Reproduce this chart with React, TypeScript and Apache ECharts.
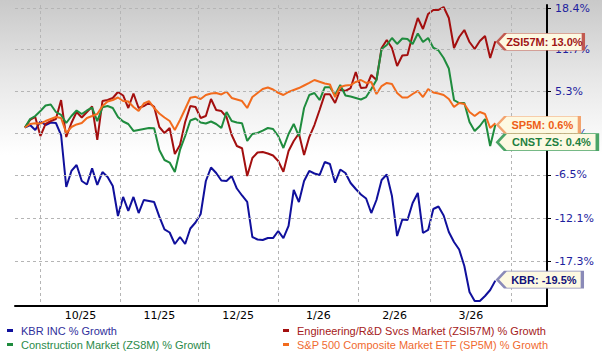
import React, { useEffect, useRef } from 'react';
import * as echarts from 'echarts';

// sampling: every 2 calendar days starting 2025-09-25
const START_DATE = [2025, 8, 25];
const STEP_DAYS = 2;

const kbr = [
  0, 0.35, -0.35, 0.85, 0.35, 0.71, 0.64, -1.06, -8.08, -5.97,
  -5.17, -7.3, -7.76, -5.62, -7.82, -6.11, -6.77, -7.95, -11.78, -9.37,
  -11.15, -9.37, -11.41, -9.76, -9.89, -10.02, -11.86, -13.45, -13.82, -15.21,
  -14.37, -15.21, -13.33, -12.59, -11.53, -7.3, -5.51, -6.24, -7.23, -7.3,
  -6.64, -8.28, -9.18, -10.0, -14.37, -14.67, -14.73, -14.49, -14.5, -13.64,
  -14.5, -13.02, -8.47, -10.02, -7.3, -5.97, -6.31, -6.51, -4.77, -5.04,
  -7.52, -5.78, -6.24, -7.56, -8.34, -9.05, -9.57, -11.41, -9.76, -7.17,
  -6.44, -9.25, -14.25, -12.22, -12.28, -10.14, -8.86, -13.88, -13.51, -10.9,
  -10.59, -11.72, -13.76, -14.97, -15.87, -17.81, -20.78, -21.79, -21.79, -21.23,
  -20.56, -19.5,
];

const zsi57m = [
  0, 1.07, 1.5, -1.2, 0.5, 0.92, 1.21, 3.97, -1.34, 0.64,
  2.22, 1.43, 2.22, 3.02, -1.75, 3.82, 3.97, 4.27, 5.16, 4.64,
  2.8, 4.93, 2.8, 3.09, 3.53, 2.99, 0.07, -0.78, -0.07, -3.68,
  -2.45, 0.78, 3.09, 2.95, 1.36, 1.64, 4.12, 2.51, 2.36, 1.5,
  -1.06, -2.59, -2.9, -6.64, -4.23, -3.48, -3.41, -3.62, -3.89, -4.63,
  -6.07, -3.27, -1.89, -0.85, -3.82, -1.34, 0.35, 2.51, 4.81, 4.81,
  3.53, 5.53, 5.31, 5.75, 8.18, 5.75, 5.83, 7.72, 6.96, 11.92,
  13.19, 11.92, 9.1, 10.74, 10.82, 14.0, 16.78, 14.97, 17.45, 18.11,
  18.11, 18.61, 16.78, 11.92, 13.68, 14.81, 12.87, 11.76, 13.03, 13.84,
  10.34, 13.0,
];

const zs8m = [
  0, 1.21, 1.64, 2.36, 3.17, 3.31, 2.22, 1.79, 0.64, 1.64,
  2.44, 1.93, 2.44, 2.87, 0.92, 2.9, 3.09, 2.8, 1.5, 0.85,
  0.5, -0.49, -0.35, -0.21, -0.07, -0.11, -3.13, -4.5, -4.84, -6.11,
  -3.13, -1.2, 1.0, 1.28, 0.71, 0.57, 0.85, 0.5, -0.07, 2.22,
  0.92, 0.71, 0.6, -1.89, -0.92, -0.78, -0.45, -0.07, -0.21, -1.2,
  -2.86, -0.92, 0.5, -1.2, 2.8, 4.71, 5.01, 3.97, 5.86, 5.86,
  4.71, 6.2, 4.64, 4.49, 4.27, 4.05, 4.41, 5.6, 6.96, 11.76,
  12.4, 13.52, 12.56, 13.44, 13.36, 12.56, 14.24, 12.87, 13.52, 11.96,
  11.53, 10.34, 8.72, 3.97, 3.53, 3.53, 0.78, -0.49, 0.21, 1.21,
  -2.59, 0.4,
];

const sp5m = [
  0, 0.5, 0.6, 0.57, 0.92, 1.21, 1.5, 1.36, -0.78, 0.07,
  0.43, 0.64, 1.36, 1.64, 1.93, 3.09, 3.75, 3.97, 4.34, 3.82,
  3.75, 2.95, 2.36, 3.46, 3.82, 2.8, 2.0, 1.43, 0.92, -0.35,
  1.07, 2.65, 4.3, 4.44, 4.12, 4.71, 4.93, 5.01, 4.79, 5.23,
  4.27, 4.05, 3.82, 2.8, 4.41, 5.01, 5.6, 5.83, 5.53, 5.04,
  4.71, 5.16, 5.46, 5.75, 6.13, 6.51, 6.96, 6.7, 6.43, 6.28,
  4.41, 5.9, 6.13, 6.2, 6.66, 6.96, 6.51, 6.66, 4.86, 6.05,
  6.51, 6.36, 5.01, 4.34, 4.34, 4.86, 5.31, 4.41, 5.6, 5.08,
  4.93, 4.71, 4.12, 2.95, 3.53, 3.38, 2.22, 1.64, 2.22, 1.93,
  -0.07, 0.6,
];

const seriesNames = [
  'KBR INC % Growth',
  'Engineering/R&D Svcs Market (ZSI57M) % Growth',
  'Construction Market (ZS8M) % Growth',
  'S&P 500 Composite Market ETF (SP5M) % Growth',
];
const tagNames = ['KBR', 'ZSI57M', 'CNST ZS', 'SP5M'];
const yTickLabels = [18.4, 11.7, 5.3, -0.8, -6.5, -12.1, -17.3];
const monthStarts = [
  [2025, 9, 1], [2025, 10, 1], [2025, 11, 1], [2026, 0, 1],
  [2026, 1, 1], [2026, 2, 1], [2026, 3, 1],
];

const DAY = 86400000;
const toL = (g: number) => Math.log(1 + g / 100);

export default function App() {
  const ref = useRef<HTMLDivElement>(null);

  useEffect(() => {
    if (!ref.current) return;
    const chart = echarts.init(ref.current, undefined, { renderer: 'svg' });

    const dates = kbr.map((_, i) =>
      new Date(START_DATE[0], START_DATE[1], START_DATE[2] + STEP_DAYS * i).getTime()
    );
    const monthTicks = monthStarts.map(([y, m, d]) => new Date(y, m, d).getTime());
    const midTicks = monthTicks.slice(0, -1).map((t, i) => (t + monthTicks[i + 1]) / 2);
    const oct1 = monthTicks[0];
    const xMin = oct1 - 9.83 * DAY;
    const xMax = oct1 + 195.98 * DAY;
    const yTicks = yTickLabels.map(toL);
    const yMin = (127.5 - 306) / 706;
    const yMax = (127.5 - 5) / 706;

    const allValues = [kbr, zsi57m, zs8m, sp5m];
    const styles = [
      { line: '#10109c', legend: '#2f2f9c', text: '#12127a', border: '#8a8ab8', w: 85, dy: -1 },
      { line: '#a30f0f', legend: '#a52020', text: '#a01414', border: '#c25a50', w: 86, dy: 0.5 },
      { line: '#1f8c3e', legend: '#2b8a4a', text: '#1d7f40', border: '#4aa466', w: 100, dy: 17.5 },
      { line: '#f26b1d', legend: '#f06a30', text: '#ee5f18', border: '#f3a36e', w: 82, dy: 1.5 },
    ];

    const series = allValues.map((vals, s) => {
      const st = styles[s];
      const last = vals.length - 1;
      const w = st.w;
      return {
        name: seriesNames[s],
        type: 'line',
        showSymbol: false,
        symbol: 'none',
        z: 2 + s,
        lineStyle: { color: st.line, width: 2 },
        itemStyle: { color: st.line },
        data: dates.map((t, i) => [t, toL(vals[i])]),
        markPoint: {
          silent: true,
          z: 30 + s,
          symbol: `path://M0,8.5L8,0L${w},0L${w},17L8,17Z`,
          symbolSize: [w, 17],
          symbolOffset: [w / 2 + 2, st.dy],
          itemStyle: { color: '#fdf9e2', borderColor: st.border, borderWidth: 1.5 },
          label: {
            show: true,
            position: 'inside',
            offset: [4, 0],
            formatter: `${tagNames[s]}: ${vals[last].toFixed(1)}%`,
            color: st.text,
            fontFamily: 'Liberation Sans',
            fontWeight: 'bold',
            fontSize: 11,
          },
          data: [{ coord: [dates[last], toL(vals[last])] }],
        },
      };
    });

    const legendBase = {
      orient: 'vertical',
      top: 320,
      itemGap: 3,
      itemWidth: 6,
      itemHeight: 3,
      icon: 'rect',
      selectedMode: false,
      textStyle: { fontFamily: 'Liberation Sans', fontSize: 11, padding: [0, 0, 0, 3] },
    };

    const gridLine = { show: true, lineStyle: { color: '#b5b5b5', width: 1, type: [3, 3] } };

    chart.setOption({
      animation: false,
      graphic: [
        {
          type: 'rect',
          left: 0,
          top: 0,
          z: -100,
          silent: true,
          shape: { width: 602, height: 155 },
          style: {
            fill: new echarts.graphic.LinearGradient(0, 0, 0, 1, [
              { offset: 0, color: '#c9c9c9' },
              { offset: 0.5, color: '#e7e7e7' },
              { offset: 1, color: '#ffffff' },
            ]),
          },
        },
      ],
      grid: {
        left: 15,
        right: 55,
        top: 5,
        bottom: 51,
        containLabel: false,
        outerBoundsMode: 'none',
      },
      legend: [
        {
          ...legendBase,
          left: 2,
          data: [
            { name: seriesNames[0], textStyle: { color: styles[0].legend } },
            { name: seriesNames[2], textStyle: { color: styles[2].legend } },
          ],
        },
        {
          ...legendBase,
          left: 278,
          data: [
            { name: seriesNames[1], textStyle: { color: styles[1].legend } },
            { name: seriesNames[3], textStyle: { color: styles[3].legend } },
          ],
        },
      ],
      xAxis: {
        type: 'value',
        position: 'bottom',
        min: xMin,
        max: xMax,
        z: 10,
        axisLine: { show: true, onZero: false, lineStyle: { color: '#000000', width: 2 } },
        axisTick: { show: false, customValues: monthTicks },
        axisLabel: {
          customValues: midTicks,
          formatter: (v: number) => {
            const d = new Date(v);
            return `${d.getMonth() + 1}/${String(d.getFullYear() % 100).padStart(2, '0')}`;
          },
          color: '#000',
          fontFamily: 'DejaVu Sans',
          fontSize: 11,
          margin: 4,
        },
        splitLine: gridLine,
      },
      yAxis: {
        type: 'value',
        position: 'right',
        min: yMin,
        max: yMax,
        z: 10,
        axisLine: { show: true, onZero: false, lineStyle: { color: '#000', width: 2 } },
        axisTick: { show: true, length: 4, lineStyle: { color: '#000' }, customValues: yTicks },
        axisLabel: {
          customValues: yTicks,
          formatter: (v: number) => `${((Math.exp(v) - 1) * 100).toFixed(1)}%`,
          color: '#1e1e9e',
          fontFamily: 'DejaVu Sans',
          fontSize: 11,
          margin: 8,
        },
        splitLine: gridLine,
      },
      series,
    });

    return () => chart.dispose();
  }, []);

  return (
    <div
      ref={ref}
      style={{ position: 'fixed', left: 0, top: 0, width: 602, height: 357, background: '#fff' }}
    />
  );
}
